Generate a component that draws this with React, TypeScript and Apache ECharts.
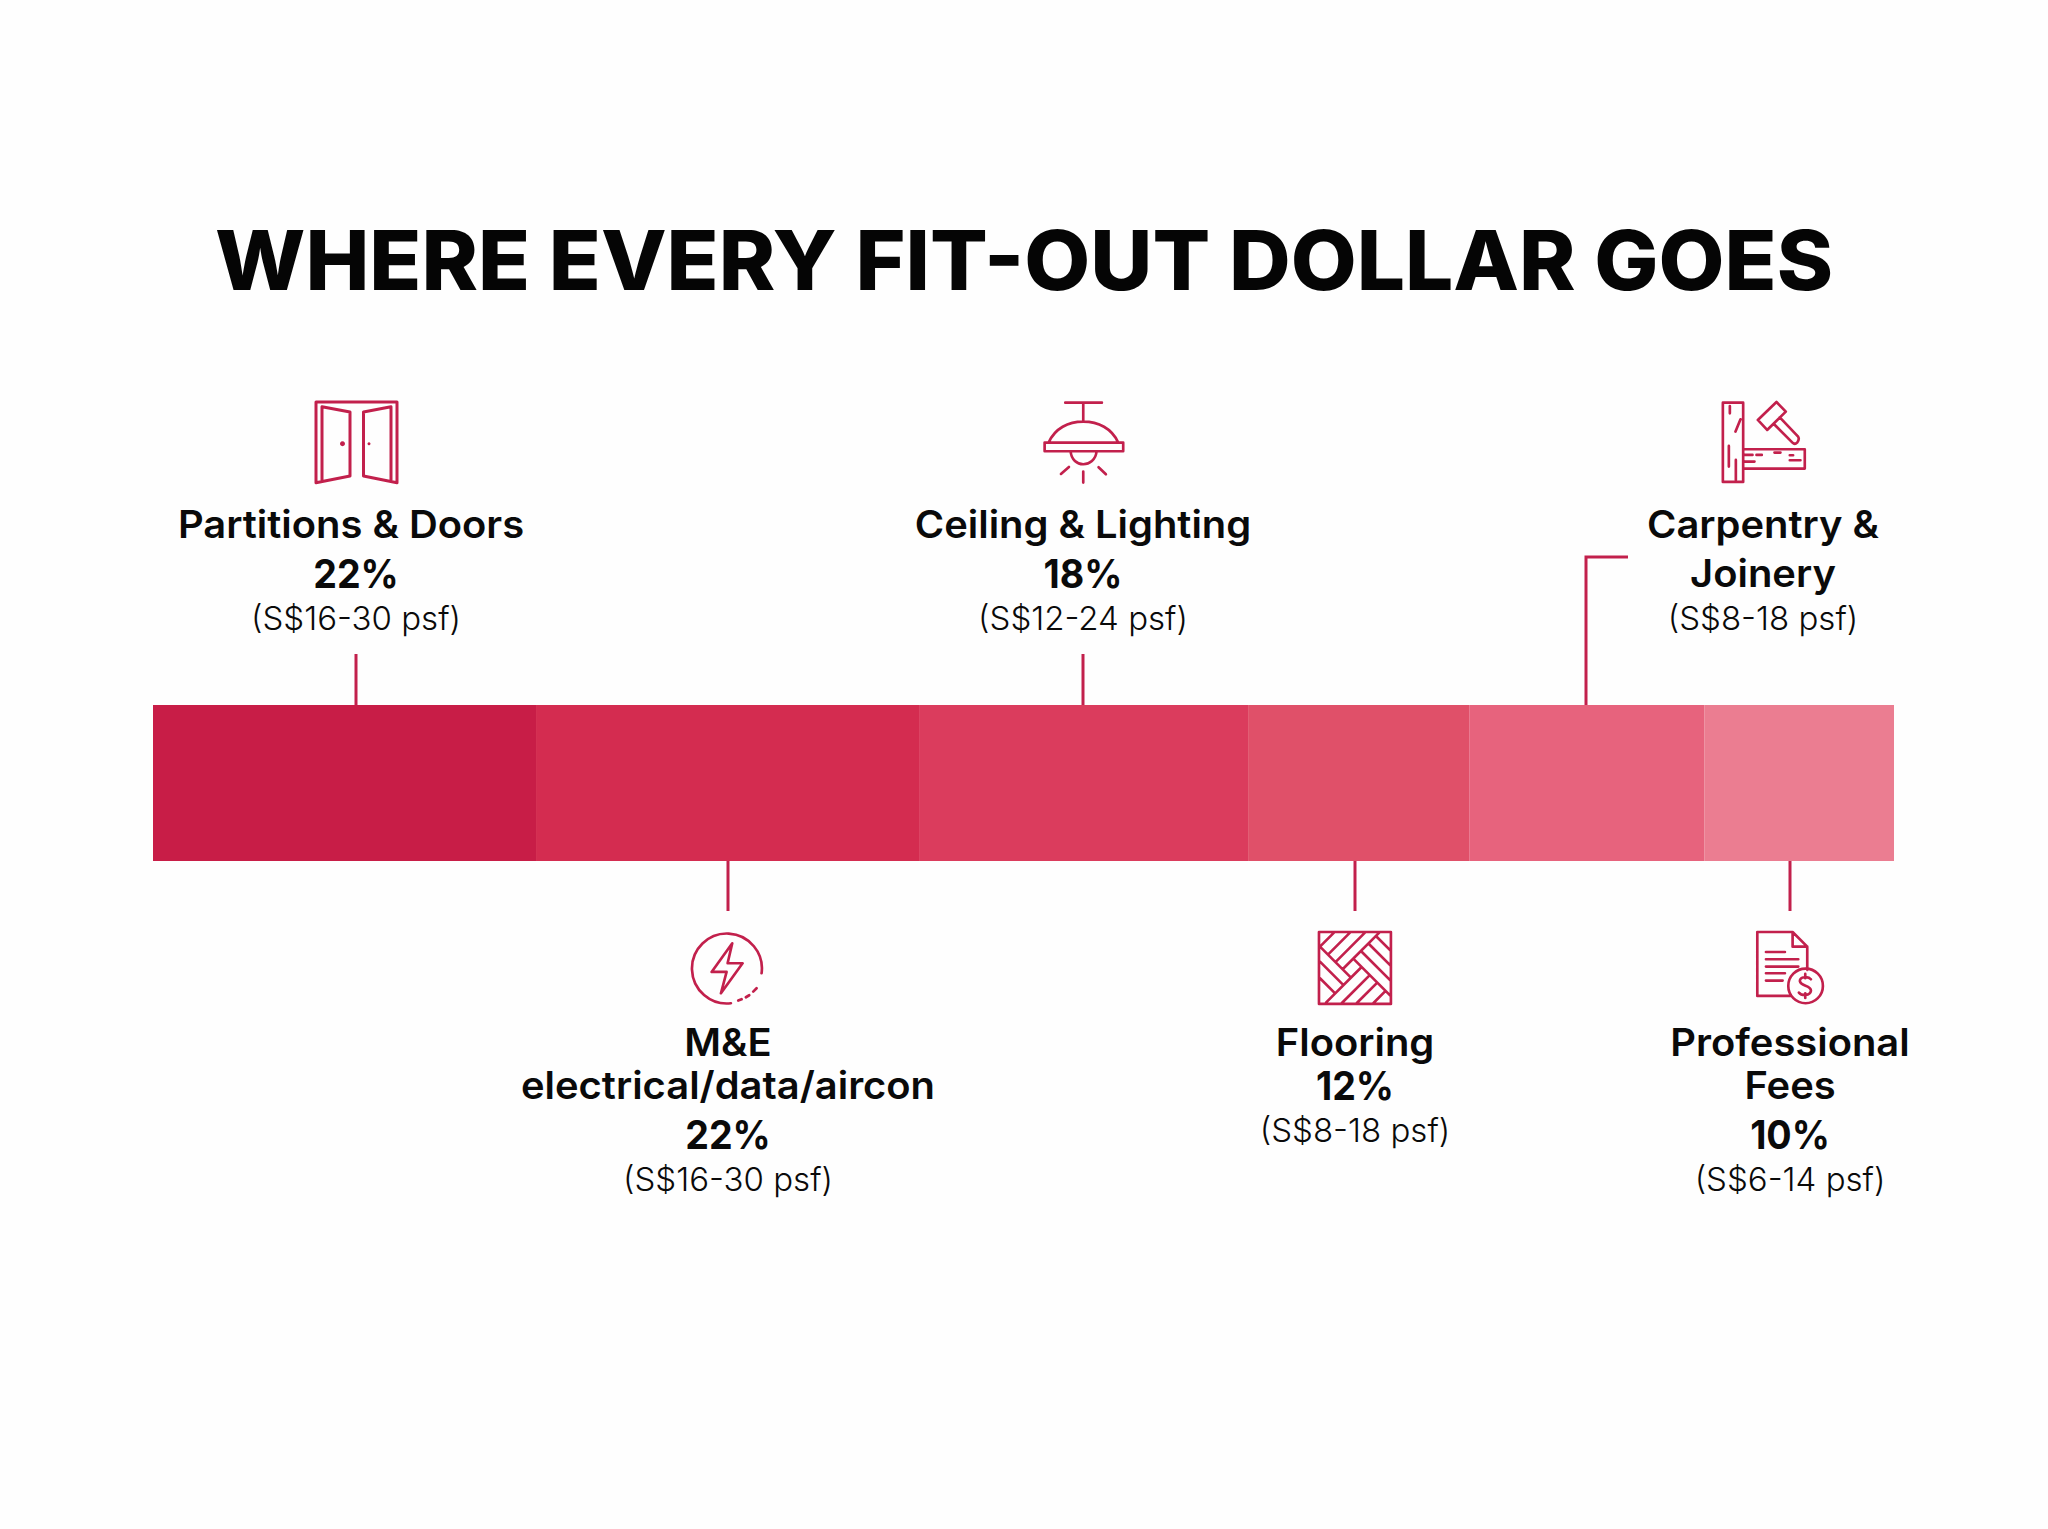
import React, { useEffect, useRef } from "react";
import * as echarts from "echarts";

const titleText = "WHERE EVERY FIT-OUT DOLLAR GOES";
const segmentNames = ["Partitions & Doors", "M&E electrical/data/aircon", "Ceiling & Lighting", "Flooring", "Carpentry & Joinery", "Professional Fees"];
const segmentShares = [22, 22, 18.9, 12.7, 13.5, 10.9];
const segmentColors = ["#C81D47", "#D42C50", "#DB3C5D", "#E05069", "#E7637D", "#EB7D91"];

const INK = "#C2204C";
const FONT = "Inter";

type Row = [string, number, number, "name" | "pct" | "psf"];
const rows: Row[] = [
  ["Partitions & Doors", 351, 524, "name"], ["22%", 356, 573, "pct"], ["(S$16-30 psf)", 356, 618, "psf"],
  ["Ceiling & Lighting", 1083, 524, "name"], ["18%", 1083, 573, "pct"], ["(S$12-24 psf)", 1083, 618, "psf"],
  ["Carpentry &", 1763, 524, "name"], ["Joinery", 1763, 573, "name"], ["(S$8-18 psf)", 1763, 618, "psf"],
  ["M&E", 728, 1042, "name"], ["electrical/data/aircon", 728, 1085, "name"], ["22%", 728, 1134, "pct"], ["(S$16-30 psf)", 728, 1179, "psf"],
  ["Flooring", 1355, 1042, "name"], ["12%", 1355, 1085, "pct"], ["(S$8-18 psf)", 1355, 1130, "psf"],
  ["Professional", 1790, 1042, "name"], ["Fees", 1790, 1085, "name"], ["10%", 1790, 1134, "pct"], ["(S$6-14 psf)", 1790, 1179, "psf"],
];

const leaders: number[][][] = [
  [[356, 654], [356, 705]],
  [[1083, 654], [1083, 705]],
  [[1628, 557], [1586, 557], [1586, 705]],
  [[728, 861], [728, 911]],
  [[1355, 861], [1355, 911]],
  [[1790, 861], [1790, 911]],
];

const icons: Record<string, string> = {
  door: "M316 482.7V402H397V482.7M316 482.7L350 476V412L322 406.7V481.3M397 482.7L363.5 476V412L391 406.7V481.3",
  lamp: "M196 68H306M250 68V125M146 188C165 145 205 125 250 125C295 125 336 145 355 188M134 188H370V214H134ZM212 214C214 240 232 253 250 253C268 253 288 240 290 214M183 282L207 261M250 275V308M296 262L318 283",
  carp: "M429 68H490V306H429ZM490 208H675V266H490ZM590 66L618 95L562 150L534 120ZM600 112L655 170Q660 178 652 188Q645 195 638 188L583 133M450 78V100M482 118L467 155M447 198V260M468 240V300M495 225H518M530 225H546M584 218H602M630 226H640M630 241H662M495 245H524",
  bolt: "M305 190A105 105 0 1 0 213 280M235 272L245 268M258 262L268 256M280 245L290 235M217 100L155 186H200L183 250L248 160H203Z",
  floor: "M57 66H273V282H57ZM238 68L128 178M60 110L153 203M160 146L272 258M78 278L185 171M60 110L102 68M84 134L150 68M106.5 156.5L195 68M60 155L130.5 225.5M60 205L105.5 250.5M183 123L272 212M205.5 100.5L272 167M228 78L272 122M125 280L209.5 195.5M170 280L232 218M220 280L257 243",
  fees: "M232 180V110L188 66H82V258H180M188 66V110H232M108 126H165M108 148H205M108 170H205M108 190H165M108 212H158M279 228A52 52 0 1 1 175 228A52 52 0 1 1 279 228ZM243 208C235 198 208 200 210 214C212 230 245 225 243 243C241 258 215 258 207 248M226 192V205M226 250V264",
};
const iconPlacement: [string, number, number, number, number][] = [
  ["door", 0, 0, 1, 3],
  ["lamp", 1000, 380, 1 / 3, 8],
  ["carp", 1580, 380, 1 / 3, 8],
  ["bolt", 660, 910, 1 / 3, 8],
  ["floor", 1300, 910, 1 / 3, 8],
  ["fees", 1730, 910, 1 / 3, 8],
];
const knobs: [number, number, number][] = [[342.5, 443.7, 2.5], [369, 443.7, 1.5]];

Object.keys(icons).forEach((k) => echarts.graphic.registerShape("icon-" + k, echarts.graphic.extendPath(icons[k], {})));

const rowStyle = {
  name: { fontSize: 38, fontWeight: 600, sx: 1.05 },
  pct: { fontSize: 40, fontWeight: 700, sx: 0.94 },
  psf: { fontSize: 33, fontWeight: 300, sx: 1 },
};

export default function App() {
  const ref = useRef<HTMLDivElement>(null);
  useEffect(() => {
    document.body.style.margin = "0";
    const chart = echarts.init(ref.current!, undefined, { renderer: "svg" });
    const graphic: any[] = [];
    graphic.push({ type: "text", x: 1024, y: 260, scaleX: 1.042, style: { text: titleText, x: 0, y: 0, align: "center", verticalAlign: "middle", fill: "#050505", font: `800 82px ${FONT}` } });
    rows.forEach(([text, x, y, kind]) => {
      const s = rowStyle[kind];
      graphic.push({ type: "text", x, y, scaleX: s.sx, style: { text, x: 0, y: 0, align: "center", verticalAlign: "middle", fill: "#0a0a0a", font: `${s.fontWeight} ${s.fontSize}px ${FONT}` } });
    });
    leaders.forEach((points) => graphic.push({ type: "polyline", shape: { points }, style: { stroke: INK, lineWidth: 3, fill: "none" } }));
    iconPlacement.forEach(([k, x, y, sc, lw]) => graphic.push({ type: "icon-" + k, x, y, scaleX: sc, scaleY: sc, style: { stroke: INK, lineWidth: lw, fill: "none", lineJoin: "round", lineCap: "round" } }));
    knobs.forEach(([cx, cy, r]) => graphic.push({ type: "circle", shape: { cx, cy, r }, style: { fill: INK } }));
    chart.setOption({
      animation: false,
      backgroundColor: "#FEFEFE",
      grid: { left: 153, right: 154, top: 705, height: 156 },
      xAxis: { type: "value", min: 0, max: 100, show: false },
      yAxis: { type: "category", data: ["share"], show: false },
      series: segmentNames.map((name, i) => ({
        name, type: "bar", stack: "total", barWidth: 156,
        data: [segmentShares[i]], itemStyle: { color: segmentColors[i] },
      })),
      graphic,
    });
    return () => chart.dispose();
  }, []);
  return <div ref={ref} style={{ width: 2048, height: 1529 }} />;
}
